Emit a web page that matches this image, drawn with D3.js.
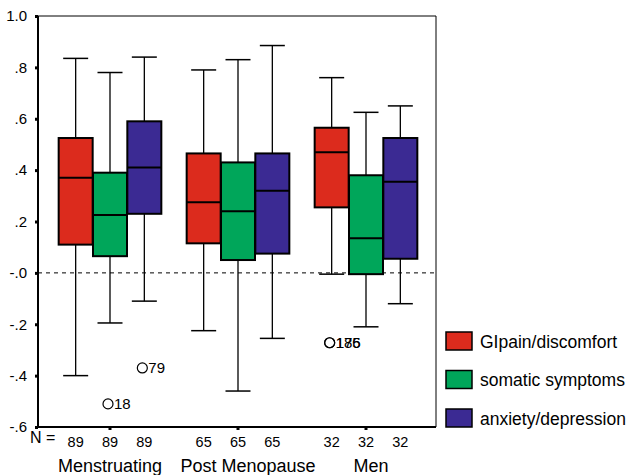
<!DOCTYPE html>
<html>
<head>
<meta charset="utf-8">
<script src="https://cdn.jsdelivr.net/npm/d3@7"></script>
<style>
  body { margin: 0; background: #fff; }
  text { font-family: "Liberation Sans", Arial, sans-serif; fill: #000; }
</style>
</head>
<body>
<svg id="chart" width="635" height="475"></svg>
<script>
// groups and series
var groups = ["Menstruating", "Post Menopause", "Men"];
var series = ["GIpain/discomfort", "somatic symptoms", "anxiety/depression"];
var colors = ["#dc2b1d", "#00a65a", "#3b2a93"];
var counts = [89, 65, 32];

// [whiskerLow, q1, median, q3, whiskerHigh] per group, per series
var giPain   = [[-0.40, 0.11, 0.37, 0.525, 0.835], [-0.225, 0.115, 0.275, 0.465, 0.79], [-0.005, 0.255, 0.47, 0.565, 0.76]];
var somatic  = [[-0.195, 0.065, 0.225, 0.39, 0.78], [-0.46, 0.05, 0.24, 0.43, 0.83], [-0.21, -0.005, 0.135, 0.38, 0.625]];
var anxiety  = [[-0.11, 0.23, 0.41, 0.59, 0.84], [-0.255, 0.075, 0.32, 0.465, 0.885], [-0.12, 0.055, 0.355, 0.525, 0.65]];

// outliers: group, series, value, label
var outliers = [
  {g: 0, s: 1, v: -0.51, label: "18"},
  {g: 0, s: 2, v: -0.37, label: "79"},
  {g: 2, s: 0, v: -0.272, label: "176"},
  {g: 2, s: 0, v: -0.272, label: "185"}
];

var yTicks = [1.0, 0.8, 0.6, 0.4, 0.2, 0, -0.2, -0.4, -0.6];
var yTickLabels = ["1.0", ".8", ".6", ".4", ".2", "-.0", "-.2", "-.4", "-.6"];

(function() {
  var allStats = [giPain, somatic, anxiety];
  var svg = d3.select("#chart");

  var left = 38, right = 436, top = 16, bottom = 427;

  var y = d3.scaleLinear().domain([-0.6, 1.0]).range([bottom, top]);
  var x = d3.scaleBand().domain(groups).range([46, 430]);
  var xs = d3.scaleBand().domain(series).range([0, 103]);

  // frame (top/right thin)
  svg.append("path")
    .attr("d", "M" + left + "," + top + "H" + right + "V" + bottom)
    .attr("fill", "none").attr("stroke", "#000").attr("stroke-width", 1);

  // zero dashed line
  svg.append("line")
    .attr("x1", left).attr("x2", right)
    .attr("y1", y(0)).attr("y2", y(0))
    .attr("stroke", "#000").attr("stroke-width", 1)
    .attr("stroke-dasharray", "4,4");

  // y axis
  var yAxis = svg.append("g")
    .attr("transform", "translate(" + left + ",0)")
    .call(d3.axisLeft(y).tickValues(yTicks)
      .tickFormat(function(d, i) { return yTickLabels[i]; })
      .tickSize(3).tickPadding(8));
  yAxis.select(".domain").attr("stroke-width", 2).attr("d", "M0," + top + "V" + bottom);
  yAxis.selectAll(".tick line").attr("stroke-width", 3);
  yAxis.selectAll(".tick text").style("font-size", "15px")
    .style("font-family", "Liberation Sans, Arial, sans-serif");

  // x axis
  var xAxis = svg.append("g")
    .attr("transform", "translate(0," + bottom + ")")
    .call(d3.axisBottom(x).tickSize(3).tickFormat(""));
  xAxis.select(".domain").attr("stroke-width", 2).attr("d", "M" + left + ",0H" + right);
  xAxis.selectAll(".tick line").attr("stroke-width", 3);

  // boxes
  var boxW = 34, capW = 25;
  groups.forEach(function(g, gi) {
    series.forEach(function(s, si) {
      var st = allStats[si][gi];
      var cx = x(g) + 12.5 + xs(s) + xs.bandwidth() / 2;
      var grp = svg.append("g");
      // whiskers
      grp.append("line").attr("x1", cx).attr("x2", cx)
        .attr("y1", y(st[4])).attr("y2", y(st[3]))
        .attr("stroke", "#000").attr("stroke-width", 1.3);
      grp.append("line").attr("x1", cx).attr("x2", cx)
        .attr("y1", y(st[1])).attr("y2", y(st[0]))
        .attr("stroke", "#000").attr("stroke-width", 1.3);
      [st[0], st[4]].forEach(function(v) {
        grp.append("line").attr("x1", cx - capW / 2).attr("x2", cx + capW / 2)
          .attr("y1", y(v)).attr("y2", y(v))
          .attr("stroke", "#000").attr("stroke-width", 1.5);
      });
      grp.append("rect")
        .attr("x", cx - boxW / 2).attr("width", boxW)
        .attr("y", y(st[3])).attr("height", y(st[1]) - y(st[3]))
        .attr("fill", colors[si]).attr("stroke", "#000").attr("stroke-width", 2);
      grp.append("line").attr("x1", cx - boxW / 2).attr("x2", cx + boxW / 2)
        .attr("y1", y(st[2])).attr("y2", y(st[2]))
        .attr("stroke", "#000").attr("stroke-width", 2);

      // N counts
      svg.append("text").attr("x", cx).attr("y", 447)
        .attr("text-anchor", "middle").style("font-size", "14.5px")
        .text(counts[gi]);
    });
  });

  // outliers
  outliers.forEach(function(o) {
    var cx = x(groups[o.g]) + 12.5 + xs(series[o.s]) + xs.bandwidth() / 2 - 2;
    svg.append("circle").attr("cx", cx).attr("cy", y(o.v)).attr("r", 5)
      .attr("fill", "none").attr("stroke", "#000").attr("stroke-width", 1.2);
    svg.append("text").attr("x", cx + 6).attr("y", y(o.v) + 5.5)
      .style("font-size", "15px").text(o.label);
  });

  // N =
  svg.append("text").attr("x", 30).attr("y", 443).style("font-size", "16px").text("N =");

  // group labels (SPSS nudges the later ones a little right)
  var labelShift = [0, 10, 5];
  groups.forEach(function(g, i) {
    svg.append("text").attr("x", x(g) + x.bandwidth() / 2).attr("dx", labelShift[i]).attr("y", 472)
      .attr("text-anchor", "middle").style("font-size", "18px").text(g);
  });

  // legend
  var legend = svg.append("g").attr("transform", "translate(446,332)");
  series.forEach(function(s, i) {
    var row = legend.append("g").attr("transform", "translate(0," + (i * 38.5) + ")");
    row.append("rect").attr("width", 26).attr("height", 18)
      .attr("fill", colors[i]).attr("stroke", "#000").attr("stroke-width", 1.5);
    row.append("text").attr("x", 34).attr("y", 15.5).style("font-size", "17.5px").text(s);
  });
})();
</script>
</body>
</html>
